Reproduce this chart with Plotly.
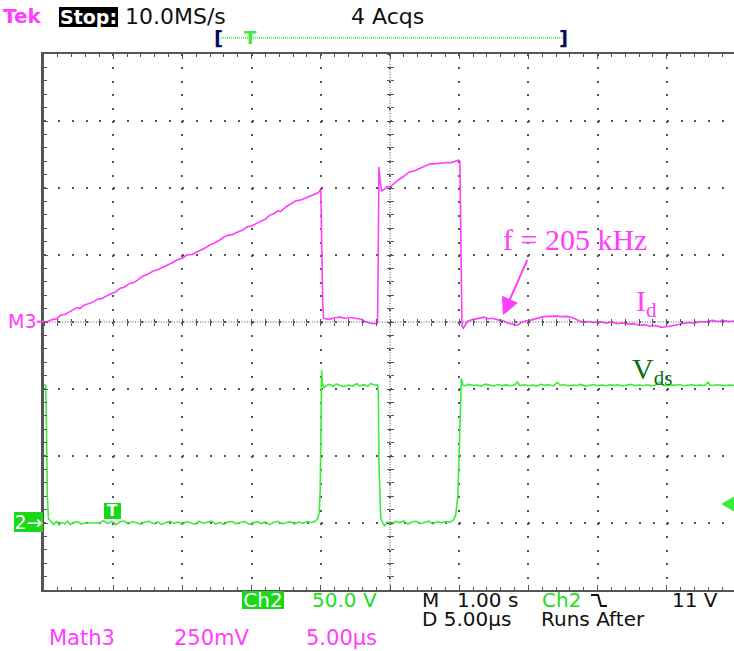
import plotly.graph_objects as go

# ---------------- acquisition data ----------------
# time in microseconds from the left edge of the record (5 us/div)

# Math3: drain current I_d, displayed at 250 mV/div
id_t = [0.0, 0.3, 0.6, 0.9, 1.2, 1.5, 1.8, 2.1, 2.4, 2.6, 2.9, 3.3, 3.6, 3.9, 4.2,
        4.6, 4.9, 5.2, 5.5, 5.8, 6.2, 6.5, 6.8, 7.1, 7.4, 7.9, 8.2, 8.6, 8.9, 9.3,
        9.6, 10.0, 10.3, 10.7, 11.1, 11.4, 11.7, 12.0, 12.3, 12.7, 13.0, 13.3, 13.6,
        14.0, 14.4, 14.7, 15.0, 15.3, 15.7, 16.0, 16.3, 16.6, 16.9, 17.1, 17.5, 17.9,
        18.2, 18.6, 18.9, 19.2, 19.5, 19.8, 20.0, 20.05, 20.14, 20.2, 20.3, 20.6,
        21.0, 21.4, 21.8, 22.2, 22.6, 22.9, 23.2, 23.5, 23.8, 24.1, 24.15, 24.2,
        24.3, 24.4, 24.6, 24.8, 25.0, 25.3, 25.6, 25.9, 26.2, 26.4, 26.7, 27.0,
        27.3, 27.6, 27.9, 28.2, 28.5, 28.8, 29.1, 29.4, 29.7, 29.95, 30.05, 30.12,
        30.2, 30.3, 30.6, 30.9, 31.2, 31.5, 31.8, 32.1, 32.4, 32.8, 33.2, 33.5,
        33.9, 34.2, 34.5, 34.8, 35.1, 35.5, 35.8, 36.1, 36.5, 37.0, 37.4, 37.8,
        38.2, 38.6, 38.9, 39.3, 39.7, 40.2, 40.6, 41.0, 41.4, 41.8, 42.2, 42.6,
        43.0, 43.4, 43.8, 44.2, 44.6, 45.0, 45.4, 45.8, 46.2, 46.6, 47.0, 47.4,
        47.8, 48.3, 48.7, 49.1, 49.5, 49.86]
id_mv = [0, 3, 9, 12, 25, 28, 37, 44, 54, 50, 63, 70, 76, 86, 88,
         100, 108, 113, 126, 130, 144, 147, 158, 170, 176, 190, 195, 206, 212, 222,
         231, 238, 250, 252, 262, 270, 278, 288, 294, 306, 317, 324, 326,
         336, 344, 356, 358, 366, 376, 384, 398, 404, 415, 412, 430, 444,
         452, 456, 462, 468, 474, 482, 494, 305, 70, 15, 12, 10,
         16, 18, 14, 17, 12, 10, 2, -4, -6, -5, 250, 578,
         520, 490, 496, 505, 503, 518, 530, 540, 552, 560, 563, 570,
         578, 584, 590, 590, 592, 592, 595, 594, 598, 604, 600, 300,
         -15, -23, 2, 8, 12, 16, 18, 12, 14, 8, 5, -4,
         -10, -12, -2, 4, 6, 12, 16, 20, 21, 22, 20, 21,
         16, 6, -1, 2, -2, 1, -4, 0, -6, -4, -8, -6,
         -12, -10, -16, -13, -20, -18, -14, -8, -5, -2, -4, 2,
         0, 6, 2, 5, 2, 4]

# Ch2: drain-source voltage V_ds, 50 V/div, ground 3 div below centre
vds_t = [0.0, 0.12, 0.18, 0.24, 0.32, 0.45, 0.7, 0.9, 1.1, 1.3, 1.5, 1.7, 1.9, 2.1,
         2.4, 2.7, 3.0, 3.4, 4.0, 4.3, 4.6, 4.9, 5.2, 5.5, 5.8, 6.1, 6.4, 6.7, 7.0,
         7.3, 7.6, 7.9, 8.2, 8.5, 8.8, 9.1, 9.4, 9.7, 10.0, 10.3, 10.6, 10.9, 11.2,
         11.5, 11.8, 12.1, 12.4, 12.7, 13.0, 13.3, 13.6, 13.9, 14.2, 14.5, 14.8,
         15.1, 15.4, 15.7, 16.0, 16.3, 16.6, 16.9, 17.2, 17.5, 17.8, 18.1, 18.4,
         18.7, 19.0, 19.3, 19.55, 19.75, 19.88, 19.96, 20.0, 20.06, 20.12, 20.25,
         20.4, 20.6, 20.9, 21.1, 21.4, 21.7, 22.0, 22.3, 22.6, 22.8, 23.1, 23.4,
         23.6, 23.9, 24.1, 24.16, 24.2, 24.26, 24.33, 24.45, 24.6, 24.8, 25.1,
         25.4, 25.7, 26.0, 26.3, 26.6, 26.9, 27.2, 27.5, 27.8, 28.1, 28.4, 28.7,
         29.0, 29.3, 29.55, 29.75, 29.9, 30.02, 30.1, 30.16, 30.25, 30.4, 30.7,
         31.0, 31.3, 31.6, 31.9, 32.2, 32.5, 32.8, 33.1, 33.4, 33.7, 34.0, 34.2,
         34.4, 34.7, 35.0, 35.3, 35.6, 35.9, 36.2, 36.5, 36.8, 37.1, 37.3, 37.6,
         37.9, 38.2, 38.5, 38.8, 39.1, 39.4, 39.7, 40.0, 40.3, 40.6, 40.9, 41.2,
         41.5, 41.8, 42.1, 42.4, 42.7, 43.0, 43.3, 43.6, 43.9, 44.2, 44.5, 44.7,
         45.0, 45.3, 45.6, 45.9, 46.2, 46.5, 46.8, 47.1, 47.4, 47.7, 48.0, 48.1,
         48.3, 48.6, 48.9, 49.2, 49.5, 49.86]
vds_v = [103.0, 103.0, 70.0, 20.0, 3.0, 1.5, -1.0, 1.2, -1.5, 0.6, -0.8, 1.4, -1.2, 0.2,
         1.0, -0.6, 0.0, 0.0, 0.0, 1.8, -0.4, 1.2, -1.3, 0.9, 1.5, -0.7, 1.1, 0.2, -1.1,
         0.8, 1.3, -0.5, 0.9, -1.2, 0.4, 1.2, -0.3, 0.7, -1.0, 1.1, 0.1, -0.9, 1.3,
         -0.2, 0.6, 1.4, -0.8, 0.5, -1.1, 0.9, 1.0, -0.6, 0.4, 1.2, -0.9,
         0.3, 1.1, -0.4, 0.8, -1.2, 0.6, 1.3, -0.5, 0.2, 1.0, -0.8, 0.7,
         -0.3, 1.1, 0.4, 1.0, 3.0, 7.0, 25.0, 66.0, 114.0, 104.0, 101.0,
         102.5, 103.5, 102.0, 103.8, 102.6, 101.8, 103.0, 102.2, 104.0, 102.4, 103.2, 102.0,
         104.2, 102.8, 103.0, 98.0, 45.0, 15.0, 4.0, 0.5, -2.0, 0.8, -0.6,
         1.2, 0.3, 1.5, -0.8, 0.9, 1.3, -0.5, 0.6, 1.4, -0.7, 1.1, 0.2,
         1.0, 0.5, 2.0, 6.0, 20.0, 60.0, 96.0, 108.0, 103.0, 102.5, 103.4,
         102.6, 103.0, 102.2, 103.6, 102.8, 102.3, 103.3, 102.5, 103.1, 102.4, 102.9, 105.2,
         102.6, 103.2, 102.4, 103.0, 102.2, 103.5, 102.7, 103.1, 102.3, 105.0, 102.8, 103.2,
         102.4, 103.0, 102.6, 103.4, 102.2, 102.9, 103.3, 102.5, 103.0, 102.4, 103.2, 102.7,
         103.1, 102.3, 102.9, 103.4, 102.5, 103.0, 102.6, 103.2, 102.4, 103.0, 105.4, 102.8,
         102.5, 103.1, 102.7, 103.3, 102.4, 102.9, 103.2, 102.6, 103.0, 102.5, 105.0, 103.1,
         102.6, 103.2, 102.8, 102.5, 103.0, 102.8]

# ---------------- screen geometry ----------------
FIG_W, FIG_H = 734, 651
M_L, M_R, M_T, M_B = 44, 0, 54, 61
PLOT_W = FIG_W - M_L - M_R
PLOT_H = FIG_H - M_T - M_B
DIV_X = 69.2                  # pixels per horizontal division
DIV_Y = PLOT_H / 8            # pixels per vertical division
T_DIV = 5.0                   # us per division
T_MAX = PLOT_W / DIV_X * T_DIV
T_CENTER = 5 * T_DIV

ID_DIV = 250.0                # mV per division
V_DIV = 50.0                  # V per division
V_GND_DIV = -3                # ground marker, divisions from centre

GRID = "#555555"
MAGENTA = "#ff3cff"
GREEN = "#3cec3c"
GREEN_BOX = "#18d818"
DARK_GREEN = "#0b6e12"
SANS = "DejaVu Sans"
SERIF = "Liberation Serif"


def px(x):
    return (x - M_L) / PLOT_W


def py(y):
    return (FIG_H - M_B - y) / PLOT_H


def label(text, x, y, size, color, family=SANS, bold=False, bg=None,
          w=None, h=None, xanchor="left"):
    a = dict(text=text, xref="paper", yref="paper", x=px(x), y=py(y),
             xanchor=xanchor, yanchor="middle", showarrow=False,
             borderpad=0, borderwidth=0,
             font=dict(family=family, size=size, color=color,
                       weight="bold" if bold else "normal"))
    if bg:
        a["bgcolor"] = bg
    if w:
        a["width"] = w
        a["align"] = "center"
    if h:
        a["height"] = h
        a["valign"] = "middle"
    return a


fig = go.Figure()
fig.add_trace(go.Scatter(x=vds_t, y=vds_v, yaxis="y2", mode="lines",
                         line=dict(color=GREEN, width=1.6), hoverinfo="skip"))
fig.add_trace(go.Scatter(x=id_t, y=id_mv, mode="lines",
                         line=dict(color=MAGENTA, width=1.6), hoverinfo="skip"))
# empty traces so the centre cross-hair tick axes are laid out
fig.add_trace(go.Scatter(x=[], y=[], xaxis="x2", yaxis="y3", hoverinfo="skip"))
fig.add_trace(go.Scatter(x=[], y=[], xaxis="x3", yaxis="y4", hoverinfo="skip"))

id_range = [-4 * ID_DIV, 4 * ID_DIV]
v_range = [(-4 - V_GND_DIV) * V_DIV, (4 - V_GND_DIV) * V_DIV]

center_tick = dict(showticklabels=False, showgrid=False, zeroline=False,
                   showline=False, tickcolor=GRID, ticklen=3, tickwidth=1)

fig.update_layout(
    width=FIG_W, height=FIG_H,
    margin=dict(l=M_L, r=M_R, t=M_T, b=M_B, pad=0),
    paper_bgcolor="white", plot_bgcolor="white",
    showlegend=False,
    xaxis=dict(range=[0, T_MAX], tick0=0, dtick=T_DIV, showticklabels=False,
               showgrid=True, gridcolor=GRID, gridwidth=2,
               griddash=f"2px,{DIV_Y / 5 - 2:.2f}px",
               zeroline=False, showline=True, linecolor=GRID, linewidth=2,
               mirror="ticks", ticks="inside", ticklen=5, tickcolor=GRID,
               minor=dict(dtick=1, ticks="inside", ticklen=3, tickcolor=GRID,
                          showgrid=False)),
    yaxis=dict(range=id_range, tick0=0, dtick=ID_DIV, showticklabels=False,
               showgrid=True, gridcolor=GRID, gridwidth=2,
               griddash=f"2px,{DIV_X / 5 - 2:.2f}px",
               zeroline=False, showline=True, linecolor=GRID, linewidth=3,
               ticks="inside", ticklen=4, tickcolor=GRID,
               minor=dict(dtick=ID_DIV / 5, ticks="inside", ticklen=3,
                          tickcolor=GRID, showgrid=False)),
    yaxis2=dict(range=v_range, overlaying="y", visible=False),
    # tick marks along the centre cross-hair
    xaxis2=dict(range=[0, T_MAX], overlaying="x", anchor="free", position=0.5,
                side="bottom", ticks="outside", tick0=0, dtick=1, **center_tick),
    xaxis3=dict(range=[0, T_MAX], overlaying="x", anchor="free", position=0.5,
                side="bottom", ticks="inside", tick0=0, dtick=1, **center_tick),
    yaxis3=dict(range=id_range, overlaying="y", anchor="free",
                position=T_CENTER / T_MAX, side="left", ticks="outside",
                tick0=0, dtick=ID_DIV / 5, **center_tick),
    yaxis4=dict(range=id_range, overlaying="y", anchor="free",
                position=T_CENTER / T_MAX, side="left", ticks="inside",
                tick0=0, dtick=ID_DIV / 5, **center_tick),
)

shapes = [
    # centre cross-hair
    dict(type="line", xref="paper", yref="y", x0=0, x1=1, y0=0, y1=0,
         line=dict(color=GRID, width=1, dash="1px,1.6px")),
    dict(type="line", xref="x", yref="paper", x0=T_CENTER, x1=T_CENTER, y0=0, y1=1,
         line=dict(color=GRID, width=1, dash="1px,1.6px")),
    # record / trigger position bar
    dict(type="line", xref="paper", yref="paper", x0=px(221), x1=px(562),
         y0=py(37.7), y1=py(37.7), line=dict(color=GREEN, width=1.5, dash="1px,1px")),
    # M3 reference stroke
    dict(type="line", xref="paper", yref="paper", x0=px(37), x1=px(44),
         y0=py(321.7), y1=py(321.7), line=dict(color=MAGENTA, width=2)),
    # trigger level marker at right edge
    dict(type="path", xref="paper", yref="paper",
         path=f"M{px(722)},{py(504)} L{px(734)},{py(497)} L{px(734)},{py(511)} Z",
         fillcolor=GREEN, line=dict(color=GREEN, width=1)),
    # falling-edge slope symbol
    dict(type="path", xref="paper", yref="paper",
         path=(f"M{px(591)},{py(595)} L{px(598)},{py(595)} L{px(601)},{py(606)}"
               f" L{px(607)},{py(606)}"),
         line=dict(color="#111111", width=2)),
]
fig.update_layout(shapes=shapes)

BLACK = "#111111"
ann = [
    # header
    label("Tek", 3, 16, 20, MAGENTA, bold=True),
    label("Stop:", 59, 17.5, 19, "white", bold=True, bg="black", w=59, h=20),
    label("10.0MS/s", 125, 16.5, 22, BLACK),
    label("4 Acqs", 351, 16.5, 22, BLACK),
    label("[", 214, 38, 20, "#0a0a60", bold=True),
    label("]", 559, 38, 20, "#0a0a60", bold=True),
    label("T", 244, 37.5, 18, GREEN, bold=True),
    # channel markers
    label("M3", 8, 321, 19, MAGENTA),
    label("2→", 14, 522, 19, "white", bg=GREEN_BOX, w=29, h=20),
    label("T", 104, 511, 15, "white", bold=True, bg=GREEN_BOX, w=17, h=16),
    # footer
    label("Ch2", 242, 600, 20, "white", bg=GREEN_BOX, w=42, h=18),
    label("50.0 V", 312, 600, 20, "#22dd22"),
    label("M", 422, 600, 20, BLACK),
    label("1.00 s", 457, 600, 20, BLACK),
    label("Ch2", 542, 600, 20, "#22dd22"),
    label("11 V", 672, 600, 20, BLACK),
    label("D 5.00µs", 422, 618.5, 20, BLACK),
    label("Runs After", 541, 618.5, 20, BLACK),
    label("Math3", 49, 638, 21, MAGENTA),
    label("250mV", 174, 638, 21, MAGENTA),
    label("5.00µs", 306, 638, 21, MAGENTA),
    # trace labels
    label("f = 205 kHz", 503, 240, 30, MAGENTA, family=SERIF),
    label("I<sub>d</sub>", 636, 303, 30, MAGENTA, family=SERIF),
    label("V<sub>ds</sub>", 632, 371, 30, DARK_GREEN, family=SERIF),
    # arrow pointing at the ringing after turn-off
    dict(text="", xref="x", yref="y", x=33.16, y=25, ax=25, ay=-57,
         showarrow=True, arrowhead=2, arrowsize=1.75, arrowwidth=2,
         arrowcolor=MAGENTA),
]
fig.update_layout(annotations=ann)

fig.write_html("out.html")
